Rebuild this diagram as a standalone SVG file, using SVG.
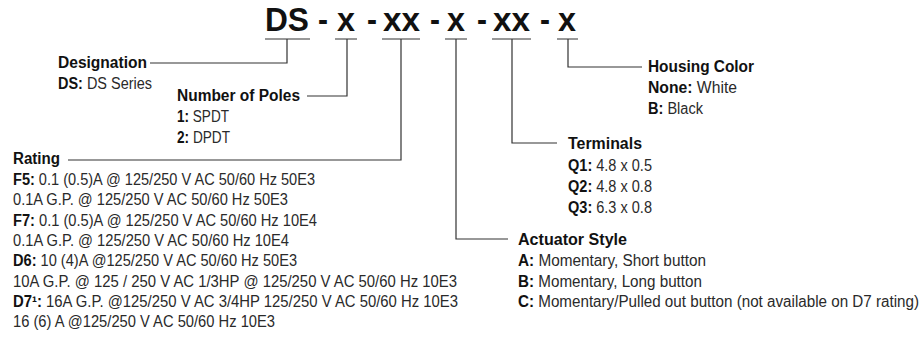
<svg xmlns="http://www.w3.org/2000/svg" width="922" height="347" viewBox="0 0 922 347">
<style>
text{font-family:"Liberation Sans",Arial,sans-serif;font-size:16px;fill:#2a2a2a}
.b{font-weight:bold;fill:#111}
.t{font-family:"Liberation Sans",Arial,sans-serif;font-size:34px;font-weight:bold;fill:#111}
.c{fill:none;stroke:#333;stroke-width:1.2}
</style>
<rect width="922" height="347" fill="#fff"/>
<g id="title">
<text class="t" x="265" y="31" textLength="44" lengthAdjust="spacingAndGlyphs">DS</text>
<text class="t" x="318" y="31" textLength="10" lengthAdjust="spacingAndGlyphs">-</text>
<text class="t" x="337" y="31" textLength="18" lengthAdjust="spacingAndGlyphs">x</text>
<text class="t" x="367" y="31" textLength="10" lengthAdjust="spacingAndGlyphs">-</text>
<text class="t" x="383" y="31" textLength="37" lengthAdjust="spacingAndGlyphs">xx</text>
<text class="t" x="430" y="31" textLength="10" lengthAdjust="spacingAndGlyphs">-</text>
<text class="t" x="447" y="31" textLength="18" lengthAdjust="spacingAndGlyphs">x</text>
<text class="t" x="477" y="31" textLength="10" lengthAdjust="spacingAndGlyphs">-</text>
<text class="t" x="493" y="31" textLength="37" lengthAdjust="spacingAndGlyphs">xx</text>
<text class="t" x="540" y="31" textLength="10" lengthAdjust="spacingAndGlyphs">-</text>
<text class="t" x="558" y="31" textLength="18" lengthAdjust="spacingAndGlyphs">x</text>
</g>
<g id="connectors">
<path class="c" d="M265 39H310M287 39V63H150"/>
<path class="c" d="M335 39H357M347 39V96H307"/>
<path class="c" d="M382 39H420M401 39V160H68"/>
<path class="c" d="M445 39H467M456 39V239H508"/>
<path class="c" d="M492 39H531M512 39V143H557"/>
<path class="c" d="M557 39H578M568 39V67H642"/>
</g>
<g id="designation">
<text class="b" x="58" y="68" textLength="89" lengthAdjust="spacingAndGlyphs">Designation</text>
<text x="58" y="89" textLength="94" lengthAdjust="spacingAndGlyphs"><tspan class="b">DS:</tspan> DS Series</text>
</g>
<g id="poles">
<text class="b" x="177" y="101" textLength="123" lengthAdjust="spacingAndGlyphs">Number of Poles</text>
<text x="177" y="122" textLength="52" lengthAdjust="spacingAndGlyphs"><tspan class="b">1:</tspan> SPDT</text>
<text x="177" y="143" textLength="53" lengthAdjust="spacingAndGlyphs"><tspan class="b">2:</tspan> DPDT</text>
</g>
<g id="rating">
<text class="b" x="13" y="164" textLength="47" lengthAdjust="spacingAndGlyphs">Rating</text>
<text x="13" y="185" textLength="302" lengthAdjust="spacingAndGlyphs"><tspan class="b">F5:</tspan> 0.1 (0.5)A @ 125/250 V AC 50/60 Hz 50E3</text>
<text x="13" y="205.3" textLength="275" lengthAdjust="spacingAndGlyphs">0.1A G.P. @ 125/250 V AC 50/60 Hz 50E3</text>
<text x="13" y="225.6" textLength="304" lengthAdjust="spacingAndGlyphs"><tspan class="b">F7:</tspan> 0.1 (0.5)A @ 125/250 V AC 50/60 Hz 10E4</text>
<text x="13" y="245.9" textLength="276" lengthAdjust="spacingAndGlyphs">0.1A G.P. @ 125/250 V AC 50/60 Hz 10E4</text>
<text x="13" y="266.2" textLength="284" lengthAdjust="spacingAndGlyphs"><tspan class="b">D6:</tspan> 10 (4)A @125/250 V AC 50/60 Hz 50E3</text>
<text x="13" y="286.5" textLength="444" lengthAdjust="spacingAndGlyphs">10A G.P. @ 125 / 250 V AC 1/3HP @ 125/250 V AC 50/60 Hz 10E3</text>
<text x="13" y="306.8" textLength="445" lengthAdjust="spacingAndGlyphs"><tspan class="b">D7¹:</tspan> 16A G.P. @125/250 V AC 3/4HP 125/250 V AC 50/60 Hz 10E3</text>
<text x="13" y="327" textLength="262" lengthAdjust="spacingAndGlyphs">16 (6) A @125/250 V AC 50/60 Hz 10E3</text>
</g>
<g id="actuator">
<text class="b" x="518" y="245" textLength="109" lengthAdjust="spacingAndGlyphs">Actuator Style</text>
<text x="518" y="266" textLength="188" lengthAdjust="spacingAndGlyphs"><tspan class="b">A:</tspan> Momentary, Short button</text>
<text x="518" y="287" textLength="184" lengthAdjust="spacingAndGlyphs"><tspan class="b">B:</tspan> Momentary, Long button</text>
<text x="518" y="307" textLength="401" lengthAdjust="spacingAndGlyphs"><tspan class="b">C:</tspan> Momentary/Pulled out button (not available on D7 rating)</text>
</g>
<g id="terminals">
<text class="b" x="568" y="149" textLength="74" lengthAdjust="spacingAndGlyphs">Terminals</text>
<text x="568" y="171" textLength="84" lengthAdjust="spacingAndGlyphs"><tspan class="b">Q1:</tspan> 4.8 x 0.5</text>
<text x="568" y="192" textLength="84" lengthAdjust="spacingAndGlyphs"><tspan class="b">Q2:</tspan> 4.8 x 0.8</text>
<text x="568" y="213" textLength="84" lengthAdjust="spacingAndGlyphs"><tspan class="b">Q3:</tspan> 6.3 x 0.8</text>
</g>
<g id="housing">
<text class="b" x="648" y="72" textLength="106" lengthAdjust="spacingAndGlyphs">Housing Color</text>
<text x="648" y="93" textLength="89" lengthAdjust="spacingAndGlyphs"><tspan class="b">None:</tspan> White</text>
<text x="648" y="114" textLength="55" lengthAdjust="spacingAndGlyphs"><tspan class="b">B:</tspan> Black</text>
</g>
</svg>
